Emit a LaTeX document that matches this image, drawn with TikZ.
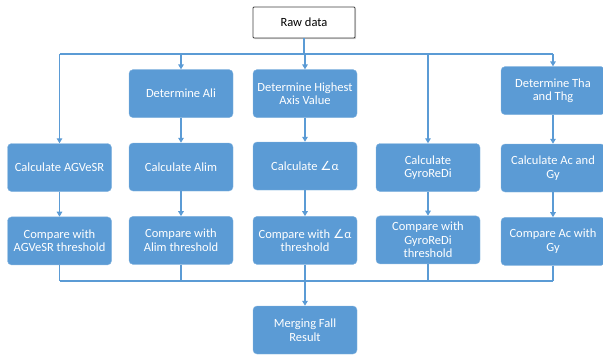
\documentclass[tikz,border=0pt]{standalone}
\usepackage{fontspec}
\setmainfont{Carlito}
\newfontfamily\symfont{DejaVu Sans}
\usepackage{xcolor}
\usetikzlibrary{positioning,arrows.meta,shadows}
\definecolor{boxblue}{HTML}{5B9BD5}

\begin{document}
\begin{tikzpicture}[
    x=1pt, y=-1pt,
    font=\fontsize{12.5}{13.5}\selectfont,
    stepbox/.style={rectangle, draw=boxblue!75!white, rounded corners=4pt, minimum height=48pt, minimum width=104pt, inner sep=2pt, align=center, fill=boxblue, text=white},
    rawbox/.style={rectangle, draw=black!75, line width=0.9pt, rounded corners=1pt, minimum height=31pt, minimum width=102pt, align=center, fill=white, text=black,
        drop shadow={shadow xshift=1.2pt, shadow yshift=-1.2pt, opacity=0.35}},
    link/.style={draw=boxblue, line width=1.3pt},
    arr/.style={link, -{Triangle[length=5pt, width=5.5pt]}},
    node distance=25pt and 18pt
]
\useasboundingbox (0,0) rectangle (603,356);

% ============================================================
% BLOCKS -- middle row first, the others hang off it
% ============================================================
\node[rawbox] (raw) at (304,22.5) {Raw data};

\node[stepbox] (calcAG)   at (59.5,167.5) {Calculate AGVeSR};
\node[stepbox] (calcAlim) at (181,167)    {Calculate Alim};
\node[stepbox] (calcAng)  at (305,166)    {Calculate {\symfont\char"2220}α};
\node[stepbox] (calcGyro) at (428,167.5)  {Calculate\\GyroReDi};
\node[stepbox] (calcAc)   at (553,168)    {Calculate Ac and\\Gy};

\node[stepbox, above=25pt of calcAlim] (detAli)  {Determine Ali};
\node[stepbox, above=24pt of calcAng]  (detHigh) {Determine Highest\\Axis Value};
\node[stepbox, above=29pt of calcAc]   (detTha)  {Determine Tha\\and Thg};

\node[stepbox, below=25pt of calcAG]   (cmpAG)   {Compare with\\AGVeSR threshold};
\node[stepbox, below=25pt of calcAlim] (cmpAlim) {Compare with\\Alim threshold};
\node[stepbox, below=26pt of calcAng]  (cmpAng)  {Compare with {\symfont\char"2220}α\\threshold};
\node[stepbox, below=24pt of calcGyro] (cmpGyro) {Compare with\\GyroReDi\\threshold};
\node[stepbox, below=25pt of calcAc]   (cmpAc)   {Compare Ac with\\Gy};

\node[stepbox] (merge) at (305,330) {Merging Fall\\Result};

% ============================================================
% BUSES
% ============================================================
\coordinate (topbus) at (304,54);
\coordinate (botbus) at (305,281);

\draw[link] (raw) -- (topbus);
\draw[link] (calcAG |- topbus) -- (calcAc |- topbus);
\draw[arr] (calcAG |- topbus)   -- (calcAG);
\draw[arr] (detAli |- topbus)   -- (detAli);
\draw[arr] (detHigh |- topbus)  -- (detHigh);
\draw[arr] (calcGyro |- topbus) -- (calcGyro);
\draw[arr] (detTha |- topbus)   -- (detTha);

\draw[arr] (detAli)  -- (calcAlim);
\draw[arr] (detHigh) -- (calcAng);
\draw[arr] (detTha)  -- (calcAc);

\draw[arr] (calcAG)   -- (cmpAG);
\draw[arr] (calcAlim) -- (cmpAlim);
\draw[arr] (calcAng)  -- (cmpAng);
\draw[arr] (calcGyro) -- (cmpGyro);
\draw[arr] (calcAc)   -- (cmpAc);

\draw[link] (cmpAG)   -- (cmpAG |- botbus);
\draw[link] (cmpAlim) -- (cmpAlim |- botbus);
\draw[link] (cmpGyro) -- (cmpGyro |- botbus);
\draw[link] (cmpAc)   -- (cmpAc |- botbus);
\draw[link] (cmpAG |- botbus) -- (cmpAc |- botbus);
\draw[arr] (cmpAng) -- (merge);

\end{tikzpicture}
\end{document}
